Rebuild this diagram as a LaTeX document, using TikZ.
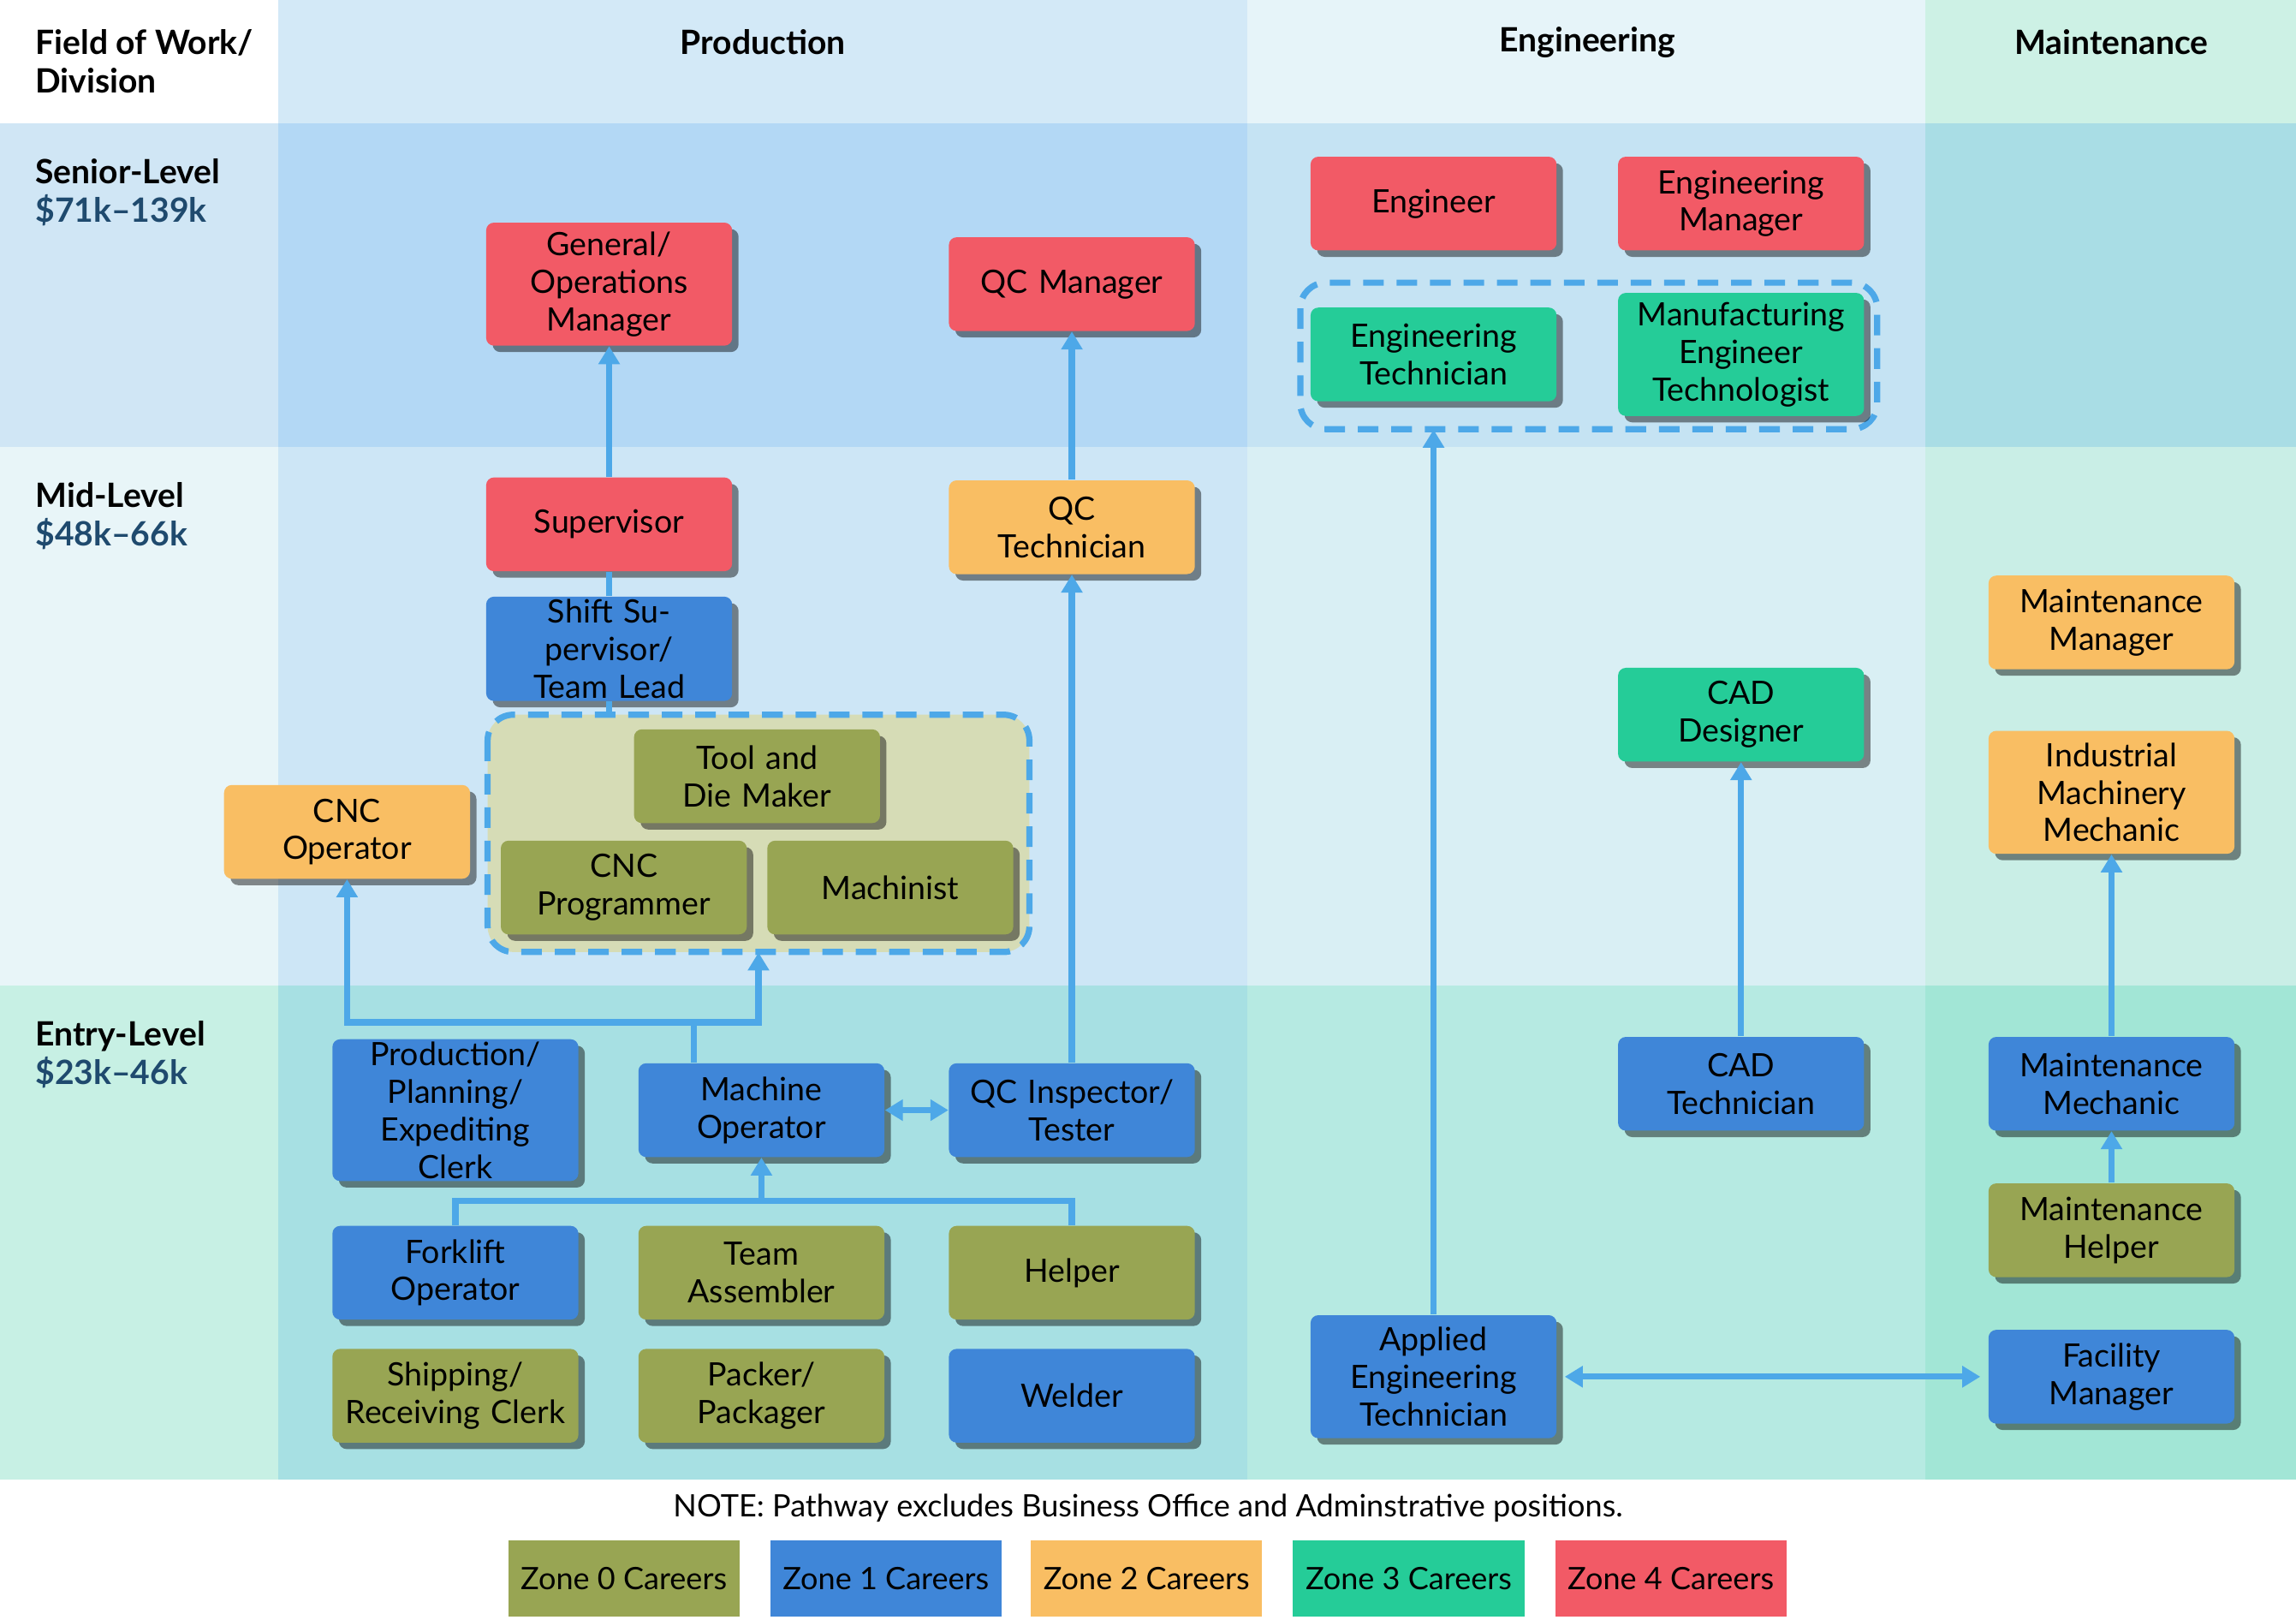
\documentclass[tikz,border=0pt]{standalone}
\usepackage{fontspec}
\setmainfont{Lato}
\usetikzlibrary{arrows.meta,shadows}
\definecolor{zzero}{HTML}{98A553}
\definecolor{zone}{HTML}{3F86D8}
\definecolor{ztwo}{HTML}{F9BE63}
\definecolor{zthree}{HTML}{25CC98}
\definecolor{zfour}{HTML}{F25A66}
\definecolor{pathc}{HTML}{4DA8E8}
\definecolor{salary}{HTML}{1F4A6E}
\definecolor{grp}{HTML}{D6DCB6}
\tikzset{
  box/.style={rounded corners=3pt, minimum width=3.36cm, minimum height=1.28cm,
    text width=3.2cm, align=center, inner sep=1pt,
    font=\fontsize{12.5}{14.6}\selectfont,
    drop shadow={shadow xshift=2.5pt, shadow yshift=-2.5pt, opacity=0.45, fill=black}},
  tall/.style={minimum height=1.68cm},
  z0/.style={box, fill=zzero},
  z1/.style={box, fill=zone},
  z2/.style={box, fill=ztwo},
  z3/.style={box, fill=zthree},
  z4/.style={box, fill=zfour},
  legend/.style={minimum width=3.16cm, minimum height=1.04cm, inner sep=0pt,
    font=\fontsize{12}{14}\selectfont},
  link/.style={draw=pathc, line width=2.4pt},
  arr/.style={link, -{Triangle[length=7pt,width=8pt]}},
  dbl/.style={link, {Triangle[length=7pt,width=8pt]}-{Triangle[length=7pt,width=8pt]}},
  group/.style={link, dash pattern=on 8pt off 5pt, rounded corners=10pt},
  head/.style={font=\fontsize{13}{15}\selectfont\bfseries},
  rowhead/.style={font=\fontsize{13}{15}\selectfont\bfseries, align=left, anchor=north west}
}
\begin{document}
\begin{tikzpicture}[x=0.02cm, y=-0.02cm]
  % background bands
  \fill[white] (0,0) rectangle (1568,1106);
  \fill[fill={rgb,255:red,211;green,233;blue,247}] (190,0) rectangle (852,84);
  \fill[fill={rgb,255:red,230;green,244;blue,249}] (852,0) rectangle (1315,84);
  \fill[fill={rgb,255:red,205;green,241;blue,229}] (1315,0) rectangle (1568,84);
  % senior
  \fill[fill={rgb,255:red,208;green,230;blue,245}] (0,84) rectangle (190,305);
  \fill[fill={rgb,255:red,179;green,216;blue,245}] (190,84) rectangle (852,305);
  \fill[fill={rgb,255:red,197;green,227;blue,243}] (852,84) rectangle (1315,305);
  \fill[fill={rgb,255:red,169;green,221;blue,229}] (1315,84) rectangle (1568,305);
  % mid
  \fill[fill={rgb,255:red,232;green,245;blue,248}] (0,305) rectangle (190,673);
  \fill[fill={rgb,255:red,205;green,230;blue,246}] (190,305) rectangle (852,673);
  \fill[fill={rgb,255:red,217;green,239;blue,244}] (852,305) rectangle (1315,673);
  \fill[fill={rgb,255:red,201;green,238;blue,230}] (1315,305) rectangle (1568,673);
  % entry
  \fill[fill={rgb,255:red,199;green,240;blue,228}] (0,673) rectangle (190,1010);
  \fill[fill={rgb,255:red,167;green,224;blue,227}] (190,673) rectangle (852,1010);
  \fill[fill={rgb,255:red,182;green,234;blue,226}] (852,673) rectangle (1315,1010);
  \fill[fill={rgb,255:red,162;green,230;blue,214}] (1315,673) rectangle (1568,1010);

  % headers
  \node[rowhead] (hfield) at (18,14) {Field of Work/\\Division};
  \node[head] (hprod) at (521,29) {Production};
  \node[head] (heng) at (1084,29) {Engineering};
  \node[head] (hmaint) at (1442,29) {Maintenance};
  \node[rowhead] (hsen) at (18,102) {Senior-Level\\\textcolor{salary}{\$71k–139k}};
  \node[rowhead] (hmid) at (18,323) {Mid-Level\\\textcolor{salary}{\$48k–66k}};
  \node[rowhead] (hent) at (18,691) {Entry-Level\\\textcolor{salary}{\$23k–46k}};

  % groups
  \draw[group, fill=grp] (333,488) rectangle (703,650);
  \node[inner sep=0pt, minimum width=7.4cm, minimum height=3.24cm] (toolgrp) at (518,569) {};
  \draw[group] (888,193) rectangle (1282,293);
  \node[inner sep=0pt, minimum width=7.88cm, minimum height=2cm] (enggrp) at (1085,243) {};

  % production
  \node[z4, tall] (gom) at (416,194) {General/\\Operations\\Manager};
  \node[z4] (qcm) at (732,194) {QC Manager};
  \node[z4] (sup) at (416,358) {Supervisor};
  \node[z2] (qct) at (732,360) {QC\\Technician};
  \node[z1] (ssl) at (416,443) {Shift Supervisor/\\Team Lead};
  \node[z0] (tdm) at (517,530) {Tool and\\Die Maker};
  \node[z0] (cncp) at (426,606) {CNC\\Programmer};
  \node[z0] (mach) at (608,606) {Machinist};
  \node[z2] (cnco) at (237,568) {CNC\\Operator};
  \node[z1, tall] (ppe) at (311,758) {Production/\\Planning/\\Expediting Clerk};
  \node[z1] (mop) at (520,758) {Machine\\Operator};
  \node[z1] (qci) at (732,758) {QC Inspector/\\Tester};
  \node[z1] (fork) at (311,869) {Forklift\\Operator};
  \node[z0] (team) at (520,869) {Team\\Assembler};
  \node[z0] (helper) at (732,869) {Helper};
  \node[z0] (ship) at (311,953) {Shipping/\\Receiving Clerk};
  \node[z0] (pack) at (520,953) {Packer/\\Packager};
  \node[z1] (weld) at (732,953) {Welder};

  % engineering
  \node[z4] (eng) at (979,139) {Engineer};
  \node[z4] (engm) at (1189,139) {Engineering\\Manager};
  \node[z3] (engt) at (979,242) {Engineering\\Technician};
  \node[z3, tall] (mfg) at (1189,242) {Manufacturing\\Engineer\\Technologist};
  \node[z3] (cadd) at (1189,488) {CAD\\Designer};
  \node[z1] (cadt) at (1189,740) {CAD\\Technician};
  \node[z1, tall] (aet) at (979,940) {Applied\\Engineering\\Technician};

  % maintenance
  \node[z2] (mntm) at (1442,425) {Maintenance\\Manager};
  \node[z2, tall] (imm) at (1442,541) {Industrial\\Machinery\\Mechanic};
  \node[z1] (mm) at (1442,740) {Maintenance\\Mechanic};
  \node[z0] (mh) at (1442,840) {Maintenance\\Helper};
  \node[z1] (fm) at (1442,940) {Facility\\Manager};

  % pathways
  \draw[arr] (sup) -- (gom);
  \draw[link] (ssl) -- (sup);
  \draw[link] (ssl.south) -- (ssl.south |- toolgrp.north);
  \draw[arr] (qct) -- (qcm);
  \draw[arr] (qci) -- (qct);
  \coordinate (mopjoin) at (474,698);
  \draw[link] (mop.north -| mopjoin) -- (mopjoin);
  \draw[arr] (mopjoin) -| (cnco.south);
  \draw[arr] (mopjoin) -| (toolgrp.south);
  \coordinate (forkjoin) at (520,820);
  \draw[link] (fork.north) |- (forkjoin) -| (helper.north);
  \draw[arr] (forkjoin) -- (mop.south);
  \draw[dbl] (mop) -- (qci);
  \draw[arr] (aet) -- (enggrp.south -| aet);
  \draw[arr] (cadt) -- (cadd);
  \draw[arr] (mm) -- (imm);
  \draw[arr] (mh) -- (mm);
  \draw[dbl] ([xshift=3pt]aet.east) -- ([xshift=-3pt]fm.west);

  % legend
  \node[font=\fontsize{12}{14}\selectfont] (note) at (784,1030) {NOTE: Pathway excludes Business Office and Adminstrative positions.};
  \node[legend, fill=zzero] (lz0) at (426,1078) {Zone 0 Careers};
  \node[legend, fill=zone] (lz1) at (605,1078) {Zone 1 Careers};
  \node[legend, fill=ztwo] (lz2) at (783,1078) {Zone 2 Careers};
  \node[legend, fill=zthree] (lz3) at (962,1078) {Zone 3 Careers};
  \node[legend, fill=zfour] (lz4) at (1141,1078) {Zone 4 Careers};
\end{tikzpicture}
\end{document}
